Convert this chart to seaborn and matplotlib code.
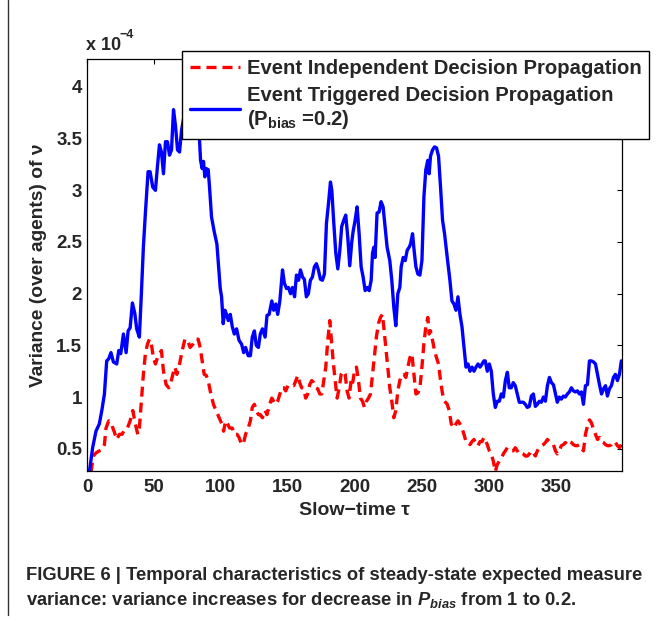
import matplotlib
matplotlib.use("Agg")
import matplotlib.pyplot as plt
from matplotlib.lines import Line2D
import seaborn as sns
import pandas as pd

# Slow-time samples and variance (units of 1e-4) for the event triggered case, P_bias = 0.2
tau_triggered = [1, 4.2, 6.7, 9.2, 11.2, 13, 14.7, 16.2, 17.9, 19.7, 22.2, 23.7, 25.2, 27.2,
                 29.2, 30.7, 32.2, 33.9, 35.7, 37.1, 39.1, 40.6, 42.1, 43.6, 45.6, 47.1, 49.1,
                 51.1, 52.6, 54.1, 55.6, 57.1, 58.6, 60.1, 61.6, 63.1, 64.6, 66.1, 67.6, 69.1,
                 70.6, 72.5, 74.5, 76.5, 78.5, 80.5, 82.5, 84, 84.8, 86, 87, 88, 89, 90.5,
                 91.5, 93, 95, 97, 99.5, 100.5, 101.7, 103, 104.2, 105.5, 107, 108.5, 110,
                 111.7, 113.5, 115.5, 117, 118.4, 120.4, 122, 123.4, 125, 126.4, 128, 129.4,
                 131, 133, 134.4, 136, 138, 139.4, 141, 142.4, 144, 146, 147.4, 149, 150.4,
                 152, 153.4, 155, 156.4, 158, 159.4, 161, 162.3, 163.8, 165.3, 166.8, 168.3,
                 169.8, 171.3, 172.8, 174.3, 175.8, 177.3, 178.8, 180.3, 181.8, 182.8, 184.3,
                 185.8, 187.3, 188.8, 190.2, 191.7, 193.2, 194.7, 196.2, 197.7, 198.7, 200.2,
                 201.7, 203.2, 204.7, 206.2, 207.7, 209.2, 210.7, 212.2, 213.2, 214.2, 215.1,
                 216.6, 218.1, 219.6, 221.1, 222.6, 224.1, 226.1, 227.6, 229.1, 230.6, 232.1,
                 233.6, 234.6, 236.1, 237.6, 239.1, 240.6, 241.6, 243.1, 244.1, 245.6, 247.1,
                 248.6, 250.1, 251.6, 253, 254.5, 255.5, 256.5, 258, 259.5, 261, 262.5, 264,
                 265.5, 267, 269, 271, 272.5, 274, 275.5, 277, 278.5, 280, 281.5, 283, 284.5,
                 286, 287.5, 289, 290.5, 292, 293.5, 295, 296.4, 297.4, 298.9, 300.4, 301.9,
                 303.4, 304.9, 306.4, 307.9, 309.4, 310.9, 312.4, 313.9, 315.3, 316.8, 318.3,
                 319.8, 321.3, 322.8, 324.3, 325.8, 327.3, 328.8, 330.3, 331.8, 333.3, 334.8,
                 336.3, 337.8, 339.3, 340.8, 342.3, 343.8, 345.3, 346.8, 348.3, 349.8, 351.2,
                 352.7, 354.2, 355.7, 357.2, 358.7, 360.2, 361.7, 363.2, 364.7, 366.2, 367.7,
                 369.2, 370.7, 372.2, 373.7, 375.2, 376.7, 378.2, 379.7, 381.2, 382.7, 384.2,
                 385.7, 387.2, 388.6, 390.1, 391.6, 393.1, 394.6, 396.1, 397.6, 399]
var_triggered = [0.2, 0.51, 0.67, 0.74, 0.88, 1.03, 1.35, 1.37, 1.43, 1.34, 1.32, 1.45, 1.42,
                 1.61, 1.43, 1.64, 1.67, 1.91, 1.81, 1.66, 1.58, 2.0, 2.45, 2.78, 3.18, 3.18,
                 3.03, 3.0, 3.23, 3.44, 3.37, 3.16, 3.47, 3.47, 3.34, 3.39, 3.78, 3.62, 3.39,
                 3.37, 3.58, 3.72, 3.6, 3.82, 3.9, 3.74, 3.62, 3.49, 3.29, 3.21, 3.28, 3.13,
                 3.21, 3.2, 3.03, 2.74, 2.6, 2.48, 2.05, 1.97, 1.71, 1.84, 1.8, 1.74, 1.8,
                 1.68, 1.61, 1.66, 1.55, 1.51, 1.43, 1.48, 1.4, 1.4, 1.58, 1.64, 1.5, 1.48,
                 1.61, 1.66, 1.58, 1.79, 1.8, 1.93, 1.84, 1.9, 1.8, 1.93, 2.23, 2.1, 2.05,
                 2.06, 2.0, 2.06, 1.97, 2.18, 2.13, 2.23, 2.16, 2.14, 1.97, 2.0, 2.13, 2.16,
                 2.26, 2.29, 2.23, 2.14, 2.13, 2.19, 2.68, 2.87, 3.08, 3.0, 2.68, 2.39, 2.24,
                 2.42, 2.65, 2.71, 2.76, 2.55, 2.27, 2.5, 2.6, 2.71, 2.84, 2.58, 2.26, 2.16,
                 2.03, 2.06, 2.03, 2.13, 2.39, 2.45, 2.35, 2.78, 2.79, 2.89, 2.84, 2.65, 2.45,
                 2.32, 2.13, 1.87, 1.69, 2.0, 2.06, 2.26, 2.35, 2.32, 2.42, 2.45, 2.48, 2.58,
                 2.44, 2.26, 2.19, 2.18, 2.32, 2.94, 3.2, 3.29, 3.16, 3.33, 3.39, 3.42, 3.41,
                 3.33, 3.03, 2.71, 2.58, 2.35, 2.13, 1.93, 1.9, 1.84, 1.97, 1.8, 1.68, 1.48,
                 1.29, 1.32, 1.25, 1.29, 1.25, 1.29, 1.32, 1.29, 1.32, 1.35, 1.35, 1.25, 1.32,
                 1.25, 1.03, 0.9, 0.96, 0.96, 1.03, 1.0, 1.16, 1.24, 1.09, 1.09, 1.14, 1.11,
                 1.03, 0.95, 0.95, 0.95, 0.93, 0.9, 0.91, 1.01, 1.03, 0.91, 0.93, 0.96, 0.95,
                 1.0, 0.96, 1.11, 1.19, 1.14, 1.12, 1.03, 0.95, 1.0, 0.98, 1.01, 1.0, 1.03,
                 1.05, 1.09, 1.06, 1.05, 1.06, 1.03, 1.05, 0.93, 1.11, 1.12, 1.35, 1.35, 1.34,
                 1.32, 1.22, 1.12, 1.03, 1.08, 1.11, 1.01, 1.08, 1.11, 1.19, 1.22, 1.16, 1.22,
                 1.35]

# Slow-time samples and variance (units of 1e-4) for event independent propagation
tau_independent = [3, 4.7, 6.7, 9.2, 11.2, 13, 14.2, 16.2, 18.2, 20.2, 22.2, 24.2, 26.2, 28.2,
                   30.2, 32.2, 34.2, 36.1, 37.9, 39.1, 40.6, 42.1, 43.6, 45.1, 46.6, 48.1,
                   49.6, 51.1, 52.6, 54.1, 55.6, 57.1, 59.1, 61.1, 62.6, 64.1, 65.6, 67.1,
                   69.1, 71.1, 73.1, 75.1, 77, 79, 81, 83, 84.5, 86, 87.5, 89, 90.5, 92, 94.4,
                   97, 100.7, 102, 103.5, 105, 106.5, 108.5, 110, 112, 113.5, 115.5, 117,
                   118.4, 120.4, 122, 123.4, 125, 126.4, 128, 129.4, 131, 133, 134.4, 136.4,
                   138, 139.4, 141, 142.4, 144, 145.4, 147, 148.4, 150, 151.4, 153, 154.4, 156,
                   157.4, 158.8, 160.3, 161.8, 163.3, 164.8, 166.3, 167.8, 169.3, 170.8, 172.3,
                   173.8, 175.3, 176.8, 178.3, 179.8, 181.3, 182.3, 183.8, 185.3, 186.8, 188.3,
                   189.8, 191.3, 192.8, 194.2, 195.7, 197.2, 198.2, 199.7, 201.2, 202.7, 204.2,
                   205.7, 207.2, 208.7, 210.2, 211.7, 213.2, 214.7, 216.1, 217.6, 219.1, 220.6,
                   221.6, 223.1, 224.6, 226.1, 227.6, 229.1, 230.6, 232.1, 233.6, 235.1, 236.6,
                   238.1, 239.6, 241.1, 242.6, 244.1, 245.6, 247.1, 248.6, 250.1, 251.5, 253,
                   254.5, 255.5, 256.5, 258, 259.5, 261, 262.5, 264, 265.5, 267, 269, 270.5,
                   272, 274, 275.5, 277, 278.5, 280, 281.5, 283, 284.5, 286, 287.5, 289, 290.5,
                   292, 293.5, 295, 296.4, 297.4, 298.9, 300.4, 301.9, 303.4, 304.9, 306.4,
                   307.9, 309.4, 310.9, 312.4, 313.9, 315.3, 316.8, 318.3, 319.8, 321.3, 322.8,
                   324.3, 325.8, 327.3, 328.8, 330.3, 331.8, 333.3, 334.8, 336.3, 337.8, 339.3,
                   340.8, 342.3, 343.8, 345.3, 346.8, 348.3, 349.8, 351.2, 352.7, 354.2, 355.7,
                   357.2, 358.7, 360.2, 361.7, 363.2, 364.7, 366.2, 367.7, 369.2, 370.7, 372.2,
                   373.7, 375.2, 376.7, 378.2, 379.7, 381.2, 382.7, 384.2, 385.7, 387.2, 388.6,
                   390.1, 391.6, 393.1, 394.6, 396.1, 397.6, 399]
var_independent = [0.27, 0.43, 0.46, 0.48, 0.49, 0.54, 0.7, 0.77, 0.74, 0.67, 0.59, 0.64, 0.64,
                   0.69, 0.7, 0.77, 0.87, 0.74, 0.64, 0.7, 0.96, 1.22, 1.42, 1.51, 1.56, 1.51,
                   1.38, 1.32, 1.38, 1.42, 1.45, 1.25, 1.12, 1.09, 1.14, 1.22, 1.29, 1.22,
                   1.32, 1.45, 1.56, 1.55, 1.48, 1.51, 1.56, 1.56, 1.48, 1.35, 1.22, 1.21,
                   1.16, 1.06, 0.93, 0.85, 0.74, 0.67, 0.77, 0.74, 0.7, 0.7, 0.64, 0.64, 0.61,
                   0.54, 0.56, 0.64, 0.7, 0.77, 0.9, 0.93, 0.87, 0.83, 0.83, 0.8, 0.87, 0.83,
                   0.93, 0.99, 0.96, 0.93, 0.96, 1.03, 1.09, 1.09, 1.06, 1.11, 1.12, 1.11,
                   1.11, 1.16, 1.21, 1.14, 1.09, 1.08, 0.99, 1.03, 1.12, 1.16, 1.14, 1.09,
                   1.08, 1.03, 1.03, 1.16, 1.29, 1.55, 1.74, 1.58, 1.35, 1.16, 0.99, 1.09,
                   1.22, 1.25, 1.22, 1.06, 0.99, 1.16, 1.12, 1.25, 1.29, 1.16, 0.99, 0.96,
                   0.9, 0.96, 0.99, 1.03, 1.22, 1.42, 1.58, 1.71, 1.77, 1.8, 1.68, 1.48, 1.29,
                   1.09, 0.96, 0.8, 0.87, 1.06, 1.16, 1.22, 1.22, 1.19, 1.29, 1.38, 1.42, 1.22,
                   1.03, 1.04, 1.09, 1.29, 1.51, 1.68, 1.77, 1.61, 1.64, 1.55, 1.45, 1.38,
                   1.32, 1.16, 1.03, 0.96, 0.93, 0.87, 0.74, 0.7, 0.74, 0.77, 0.74, 0.7, 0.64,
                   0.57, 0.57, 0.54, 0.57, 0.59, 0.54, 0.53, 0.57, 0.57, 0.61, 0.59, 0.54,
                   0.48, 0.45, 0.38, 0.28, 0.35, 0.38, 0.41, 0.45, 0.48, 0.51, 0.49, 0.48,
                   0.48, 0.51, 0.48, 0.45, 0.46, 0.45, 0.43, 0.43, 0.45, 0.48, 0.46, 0.43,
                   0.48, 0.51, 0.53, 0.54, 0.56, 0.59, 0.57, 0.56, 0.54, 0.48, 0.45, 0.48,
                   0.53, 0.54, 0.56, 0.54, 0.57, 0.56, 0.54, 0.53, 0.53, 0.54, 0.51, 0.48,
                   0.64, 0.72, 0.78, 0.75, 0.69, 0.64, 0.59, 0.61, 0.57, 0.56, 0.54, 0.53,
                   0.53, 0.54, 0.57, 0.56, 0.53, 0.51, 0.54]

x_ticks = [0, 50, 100, 150, 200, 250, 300, 350]
y_ticks = [0.5, 1, 1.5, 2, 2.5, 3, 3.5, 4]
y_tick_labels = ["0.5", "1", "1.5", "2", "2.5", "3", "3.5", "4"]

label_independent = "Event Independent Decision Propagation"
label_triggered = "Event Triggered Decision Propagation\n(P$_{\\mathbf{bias}}$ =0.2)"

sns.set_style("white")
plt.rcParams["font.family"] = ["Liberation Sans", "DejaVu Sans"]
plt.rcParams["font.weight"] = "bold"
plt.rcParams["axes.labelweight"] = "bold"
plt.rcParams["mathtext.fontset"] = "custom"
plt.rcParams["mathtext.rm"] = "Liberation Sans:bold"
plt.rcParams["mathtext.bf"] = "Liberation Sans:bold"
plt.rcParams["mathtext.it"] = "Liberation Sans:bold:italic"
plt.rcParams["mathtext.bfit"] = "Liberation Sans:bold:italic"
plt.rcParams["mathtext.default"] = "bf"

W, H = 659, 621
fig = plt.figure(figsize=(W / 100, H / 100), dpi=100)
ax = fig.add_axes([87 / W, 1 - 471 / H, 535 / W, 412 / H])

df_ind = pd.DataFrame({"tau": tau_independent, "var": var_independent})
df_trig = pd.DataFrame({"tau": tau_triggered, "var": var_triggered})

sns.lineplot(data=df_ind, x="tau", y="var", ax=ax, color=(1, 0, 0), linewidth=2.4,
             label=label_independent, estimator=None, sort=False)
sns.lineplot(data=df_trig, x="tau", y="var", ax=ax, color=(0, 0, 1), linewidth=2.4,
             label=label_triggered, estimator=None, sort=False)
line_ind, line_trig = ax.lines[0], ax.lines[1]
line_ind.set_dashes((3.0, 1.8))

ax.set_xlim(0, 399.5)
ax.set_ylim(0.285, 4.27)
ax.set_xticks(x_ticks)
ax.set_xticklabels([str(v) for v in x_ticks])
ax.set_yticks(y_ticks)
ax.set_yticklabels(y_tick_labels)
ax.tick_params(direction="in", top=True, right=True, length=3.4, width=0.8,
               labelsize=13.5, color="black")
ax.tick_params(axis="x", pad=5.5)
ax.tick_params(axis="y", pad=3.5)
for s in ax.spines.values():
    s.set_color("black")
    s.set_linewidth(0.9)

ax.set_xlabel("Slow\u2212time \u03c4", fontsize=14, fontweight="bold")
ax.set_ylabel("Variance (over agents) of \u03bd", fontsize=13.8, fontweight="bold")
ax.xaxis.set_label_coords(0.5, -(502 - 471) / 412)
ax.yaxis.set_label_coords((47 - 87) / 535, 0.5)

# exponent of the y scale
fig.text(86 / W, 1 - 46 / H, "x 10", fontsize=13, fontweight="bold", ha="left", va="center")
fig.text(119 / W, 1 - 35 / H, "\u22124", fontsize=9, fontweight="bold", ha="left", va="center")

leg = ax.legend(handles=[line_ind, line_trig], labels=[label_independent, label_triggered],
                loc="upper left", bbox_to_anchor=(182 / W, 1 - 51 / H),
                bbox_transform=fig.transFigure, fontsize=14.6, handlelength=2.5,
                handletextpad=0.32, borderpad=0.38, borderaxespad=0, labelspacing=0.4,
                frameon=True, fancybox=False, framealpha=1, edgecolor="black")
leg.get_frame().set_linewidth(1.0)
for txt in leg.get_texts():
    txt.set_fontweight("bold")

# caption below the plot
fig.text(26 / W, 1 - 580 / H,
         "FIGURE 6 | Temporal characteristics of steady-state expected measure",
         fontsize=13.2, fontweight="bold", ha="left", va="baseline")
fig.text(26 / W, 1 - 605 / H,
         "variance: variance increases for decrease in $\\mathbfit{P}_{\\mathbfit{bias}}$ from 1 to 0.2.",
         fontsize=13.2, fontweight="bold", ha="left", va="baseline")

# page border on the left
fig.add_artist(Line2D([8 / W, 8 / W], [1 - 615 / H, 1], transform=fig.transFigure,
                      color="#333333", linewidth=1.0))

fig.savefig("out.png", dpi=100)
